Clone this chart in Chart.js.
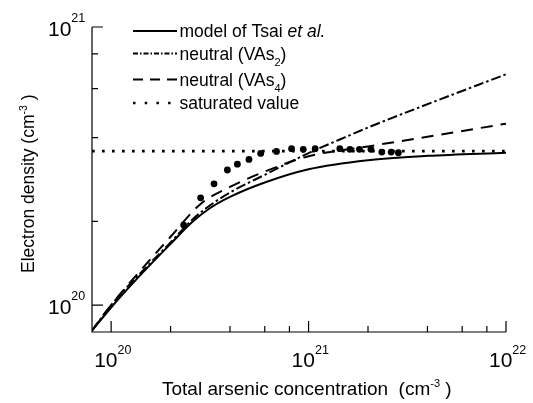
<!DOCTYPE html>
<html>
<head>
<meta charset="utf-8">
<script src="https://cdn.jsdelivr.net/npm/chart.js@4.4.0/dist/chart.umd.min.js"></script>
<style>
  html, body { margin: 0; padding: 0; background: #fff; }
  #divChartDensity { width: 533px; height: 403px; position: relative; }
</style>
</head>
<body>
<div id="divChartDensity"><canvas id="chartDensity"></canvas></div>
<script>
// total arsenic concentration (cm^-3) -> electron density (cm^-3)
var tsaiX = [8e19, 1e20, 1.39e20, 2e20, 2.6e20, 3.16e20, 4e20, 6e20, 1e21, 2e21, 4e21, 1e22];
var tsaiY = [8.1e19, 9.8e19, 1.27e20, 1.66e20, 2.0e20, 2.23e20, 2.45e20, 2.76e20, 3.08e20, 3.32e20, 3.44e20, 3.53e20];

var vas2X = [8e19, 1e20, 2e20, 2.6e20, 3.16e20, 4e20, 6e20, 1e21, 1.44e21, 2e21, 3.82e21, 1e22];
var vas2Y = [8.1e19, 1.0e20, 1.68e20, 2.04e20, 2.28e20, 2.54e20, 2.94e20, 3.52e20, 3.94e20, 4.35e20, 5.21e20, 6.76e20];

var vas4X = [8e19, 1e20, 2e20, 2.84e20, 4e20, 6e20, 1e21, 2e21, 4e21, 1e22];
var vas4Y = [8.1e19, 1.0e20, 1.76e20, 2.31e20, 2.66e20, 3.02e20, 3.43e20, 3.72e20, 4.03e20, 4.49e20];

var satX = [8e19, 1e22];
var satY = [3.58e20, 3.58e20];

var measX = [2.33e20, 2.84e20, 3.32e20, 3.88e20, 4.36e20, 4.99e20, 5.72e20, 6.88e20, 8.2e20, 9.4e20,
             1.08e21, 1.44e21, 1.62e21, 1.81e21, 2.07e21, 2.35e21, 2.62e21, 2.85e21];
var measY = [1.94e20, 2.43e20, 2.73e20, 3.06e20, 3.21e20, 3.34e20, 3.51e20, 3.57e20, 3.65e20, 3.63e20,
             3.65e20, 3.65e20, 3.63e20, 3.63e20, 3.63e20, 3.55e20, 3.55e20, 3.53e20];

// ticks
var xMajor = [1e20, 1e21, 1e22], xMajorExp = ['20', '21', '22'];
var xMinor = [2e20, 4e20, 6e20, 8e20, 2e21, 4e21, 6e21, 8e21];
var yMajor = [1e20, 1e21], yMajorExp = ['20', '21'];
var yMinor = [2e20, 4e20, 6e20, 8e20];

var FONT = '"Liberation Sans", Arial, Helvetica, sans-serif';

function pts(xs, ys) {
    var out = [];
    for (var i = 0; i < xs.length; i++) out.push({ x: xs[i], y: ys[i] });
    return out;
}

function drawParts(ctx, x, y, parts) {
    parts.forEach(function (p) {
        ctx.font = (p.italic ? 'italic ' : '') + p.size + 'px ' + FONT;
        ctx.fillText(p.t, x, y + (p.dy || 0));
        x += ctx.measureText(p.t).width;
    });
    return x;
}

// axes, inward ticks, labels and titles
var axesPlugin = {
    id: 'axesPlugin',
    afterDatasetsDraw: function (chart) {
        var ctx = chart.ctx, a = chart.chartArea;
        var xs = chart.scales.x, ys = chart.scales.y;
        ctx.save();
        ctx.strokeStyle = '#000';
        ctx.fillStyle = '#000';
        ctx.lineWidth = 1.2;
        ctx.beginPath();
        ctx.moveTo(a.left, a.top);
        ctx.lineTo(a.left, a.bottom);
        ctx.lineTo(a.right, a.bottom);
        ctx.stroke();

        ctx.beginPath();
        xMajor.forEach(function (v) { var p = xs.getPixelForValue(v); ctx.moveTo(p, a.bottom); ctx.lineTo(p, a.bottom - 11); });
        xMinor.forEach(function (v) { var p = xs.getPixelForValue(v); ctx.moveTo(p, a.bottom); ctx.lineTo(p, a.bottom - 6); });
        yMajor.forEach(function (v) { var p = ys.getPixelForValue(v); ctx.moveTo(a.left, p); ctx.lineTo(a.left + 11, p); });
        yMinor.forEach(function (v) { var p = ys.getPixelForValue(v); ctx.moveTo(a.left, p); ctx.lineTo(a.left + 6, p); });
        ctx.stroke();

        ctx.textAlign = 'left';
        ctx.textBaseline = 'alphabetic';
        xMajor.forEach(function (v, i) {
            var p = xs.getPixelForValue(v);
            drawParts(ctx, p - 17, a.bottom + 35, [
                { t: '10', size: 21 },
                { t: xMajorExp[i], size: 12.5, dy: -13.5 }
            ]);
        });
        yMajor.forEach(function (v, i) {
            var p = ys.getPixelForValue(v);
            drawParts(ctx, 48, p + 8.6, [
                { t: '10', size: 21 },
                { t: yMajorExp[i], size: 12.5, dy: -14 }
            ]);
        });

        // x title
        drawParts(ctx, 162, 395, [
            { t: 'Total arsenic concentration  (cm', size: 19 },
            { t: '-3', size: 11, dy: -8 },
            { t: ' )', size: 19 }
        ]);
        // y title
        ctx.translate(34, 273);
        ctx.rotate(-Math.PI / 2);
        drawParts(ctx, 0, 0, [
            { t: 'Electron density (cm', size: 17.5 },
            { t: '-3', size: 10.5, dy: -7.5 },
            { t: ' )', size: 17.5 }
        ]);
        ctx.restore();
    }
};

// legend entries
var legendRows = [31, 53.5, 79.5, 103];
var legendDash = [[], [5, 2, 1.5, 2], [10, 7], [2.5, 9.2]];
var legendWidth = [2, 1.8, 2, 2.5];
var legendText = [
    [{ t: 'model of Tsai ', size: 17.5 }, { t: 'et al.', size: 17.5, italic: true }],
    [{ t: 'neutral (VAs', size: 17.5 }, { t: '2', size: 11, dy: 6 }, { t: ')', size: 17.5 }],
    [{ t: 'neutral (VAs', size: 17.5 }, { t: '4', size: 11, dy: 6 }, { t: ')', size: 17.5 }],
    [{ t: 'saturated value', size: 17.5 }]
];

var legendPlugin = {
    id: 'legendPlugin',
    afterDraw: function (chart) {
        var ctx = chart.ctx;
        ctx.save();
        ctx.strokeStyle = '#000';
        ctx.fillStyle = '#000';
        ctx.textAlign = 'left';
        ctx.textBaseline = 'alphabetic';
        legendRows.forEach(function (y, i) {
            ctx.beginPath();
            ctx.setLineDash(legendDash[i]);
            ctx.lineWidth = legendWidth[i];
            ctx.moveTo(133, y);
            ctx.lineTo(177, y);
            ctx.stroke();
            ctx.setLineDash([]);
            drawParts(ctx, 179.5, y + 6, legendText[i]);
        });
        ctx.restore();
    }
};

var ctx = document.getElementById('chartDensity');
var chartDensity = new Chart(ctx, {
    type: 'scatter',
    data: {
        datasets: [{
            label: 'model of Tsai et al.',
            data: pts(tsaiX, tsaiY),
            showLine: true,
            borderColor: '#000',
            borderWidth: 2,
            pointRadius: 0,
            cubicInterpolationMode: 'monotone'
            }, {
            label: 'neutral (VAs2)',
            data: pts(vas2X, vas2Y),
            showLine: true,
            borderColor: '#000',
            borderWidth: 2,
            borderDash: [10, 3, 2.5, 3],
            pointRadius: 0,
            cubicInterpolationMode: 'monotone'
            }, {
            label: 'neutral (VAs4)',
            data: pts(vas4X, vas4Y),
            showLine: true,
            borderColor: '#000',
            borderWidth: 2,
            borderDash: [12, 8],
            pointRadius: 0,
            cubicInterpolationMode: 'monotone'
            }, {
            label: 'saturated value',
            data: pts(satX, satY),
            showLine: true,
            borderColor: '#000',
            borderWidth: 2.7,
            borderDash: [2.7, 7.3],
            pointRadius: 0
            }, {
            label: 'measured',
            data: pts(measX, measY),
            showLine: false,
            backgroundColor: '#000',
            borderColor: '#000',
            borderWidth: 0,
            pointRadius: 3.4
            }
        ]
    },
    options: {
        responsive: true,
        maintainAspectRatio: false,
        animation: false,
        layout: { padding: { left: 92, right: 27, top: 27, bottom: 71 } },
        plugins: {
            legend: { display: false },
            tooltip: { enabled: false }
        },
        scales: {
            x: { type: 'logarithmic', min: 8e19, max: 1e22, display: false },
            y: { type: 'logarithmic', min: 8e19, max: 1e21, display: false }
        }
    },
    plugins: [axesPlugin, legendPlugin]
});
</script>
</body>
</html>
